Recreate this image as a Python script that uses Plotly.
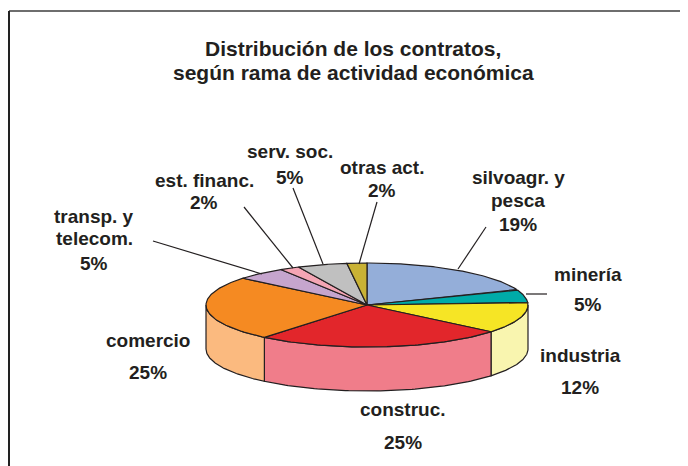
import numpy as np
import plotly.graph_objects as go

# ---- data ----
categories = ["silvoagr. y pesca", "minería", "industria", "construc.", "comercio",
              "transp. y telecom.", "est. financ.", "serv. soc.", "otras act."]
values = [19, 5, 12, 25, 25, 5, 2, 5, 2]
top_colors = ["#94AED9", "#00ABA8", "#F6E525", "#E2262B", "#F58A22",
              "#C6A5CE", "#F4A5B4", "#C0C0C0", "#C9B235"]
side_colors = ["#B7C8E6", "#7FD3D1", "#F9F5AF", "#F07D8A", "#FBBA7F",
               "#DCC8E1", "#F8CDD5", "#DADADA", "#E2D69A"]
label_lines = [["silvoagr. y", "pesca"], ["minería"], ["industria"], ["construc."],
               ["comercio"], ["transp. y", "telecom."], ["est. financ."],
               ["serv. soc."], ["otras act."]]
title_lines = ["Distribución de los contratos,", "según rama de actividad económica"]

# ---- geometry / layout (pixel-like axis units, y downward) ----
W, H = 688, 466
OFF = 8  # page body margin
cx, cy, rx, ry, depth = 367, 305, 161, 42, 44
INK = "#231F20"
FONT = "Liberation Sans, Arial, sans-serif"

total = float(sum(values))
bounds = np.concatenate([[0], np.cumsum(values)]) / total * 360.0


def arc(t0, t1, dy=0.0, n=80):
    t = np.radians(np.linspace(t0, t1, n))
    return cx + rx * np.sin(t), cy - ry * np.cos(t) + dy


fig = go.Figure()

# side walls (front half: 90..270 deg clockwise from top)
for i, v in enumerate(values):
    a0, a1 = max(bounds[i], 90), min(bounds[i + 1], 270)
    if a1 <= a0:
        continue
    xt, yt = arc(a0, a1)
    xb, yb = arc(a1, a0, depth)
    xs = np.concatenate([xt, xb, xt[:1]])
    ys = np.concatenate([yt, yb, yt[:1]])
    fig.add_trace(go.Scatter(x=xs, y=ys, mode="lines", fill="toself",
                             fillcolor=side_colors[i],
                             line=dict(color=INK, width=1.2),
                             hoverinfo="skip", showlegend=False))

# top slices
for i, v in enumerate(values):
    xa, ya = arc(bounds[i], bounds[i + 1])
    xs = np.concatenate([[cx], xa, [cx]])
    ys = np.concatenate([[cy], ya, [cy]])
    fig.add_trace(go.Scatter(x=xs, y=ys, mode="lines", fill="toself",
                             fillcolor=top_colors[i],
                             line=dict(color=INK, width=1.2),
                             name=categories[i],
                             text=f"{categories[i]}: {v}%",
                             hoverinfo="text", showlegend=False))

# label placement (layout positions): (x, y of first line, line gap, pct y)
label_pos = [
    (518, 177, 23, 224),
    (588, 274, 0, 304),
    (580, 355, 0, 387),
    (403, 409, 0, 442),
    (148, 340, 0, 372),
    (94, 216, 22, 263),
    (204, 180, 0, 202),
    (290, 151, 0, 177),
    (382, 167, 0, 190),
]
leaders = [
    ((486, 227), (458, 269)),
    ((526, 294), (547, 294)),
    None,
    None,
    None,
    ((153, 241), (262, 274)),
    ((244, 207), (293, 268)),
    ((293, 188), (323, 264)),
    ((377, 202), (359, 264)),
]

annotations = []
for i, v in enumerate(values):
    x0, y0, gap, yp = label_pos[i]
    for k, line in enumerate(label_lines[i]):
        annotations.append(dict(x=x0, y=y0 + k * gap, xref="x", yref="y",
                                text=f"<b>{line}</b>", showarrow=False,
                                font=dict(family=FONT, size=19, color=INK),
                                xanchor="center", yanchor="middle"))
    annotations.append(dict(x=x0, y=yp, xref="x", yref="y",
                            text=f"<b>{v}%</b>", showarrow=False,
                            font=dict(family=FONT, size=19, color=INK),
                            xanchor="center", yanchor="middle"))

for k, t in enumerate(title_lines):
    annotations.append(dict(x=353, y=48 + k * 24, xref="x", yref="y",
                            text=f"<b>{t}</b>", showarrow=False,
                            font=dict(family=FONT, size=21, color=INK),
                            xanchor="center", yanchor="middle"))

shapes = []
for ld in leaders:
    if ld is None:
        continue
    (x0, y0), (x1, y1) = ld
    shapes.append(dict(type="line", xref="x", yref="y", x0=x0, y0=y0, x1=x1, y1=y1,
                       line=dict(color=INK, width=1.2)))
# frame
shapes.append(dict(type="line", xref="x", yref="y", x0=9, y0=11, x1=720, y1=11,
                   line=dict(color="#6E6E6E", width=2)))
shapes.append(dict(type="line", xref="x", yref="y", x0=9, y0=11, x1=9, y1=500,
                   line=dict(color="#222222", width=2)))

fig.update_layout(
    width=W, height=H,
    margin=dict(l=0, r=0, t=0, b=0),
    paper_bgcolor="white", plot_bgcolor="white",
    xaxis=dict(range=[OFF, W + OFF], visible=False, fixedrange=True),
    yaxis=dict(range=[H + OFF, OFF], visible=False, fixedrange=True),
    annotations=annotations, shapes=shapes,
    showlegend=False,
)

fig.write_html("out.html")
